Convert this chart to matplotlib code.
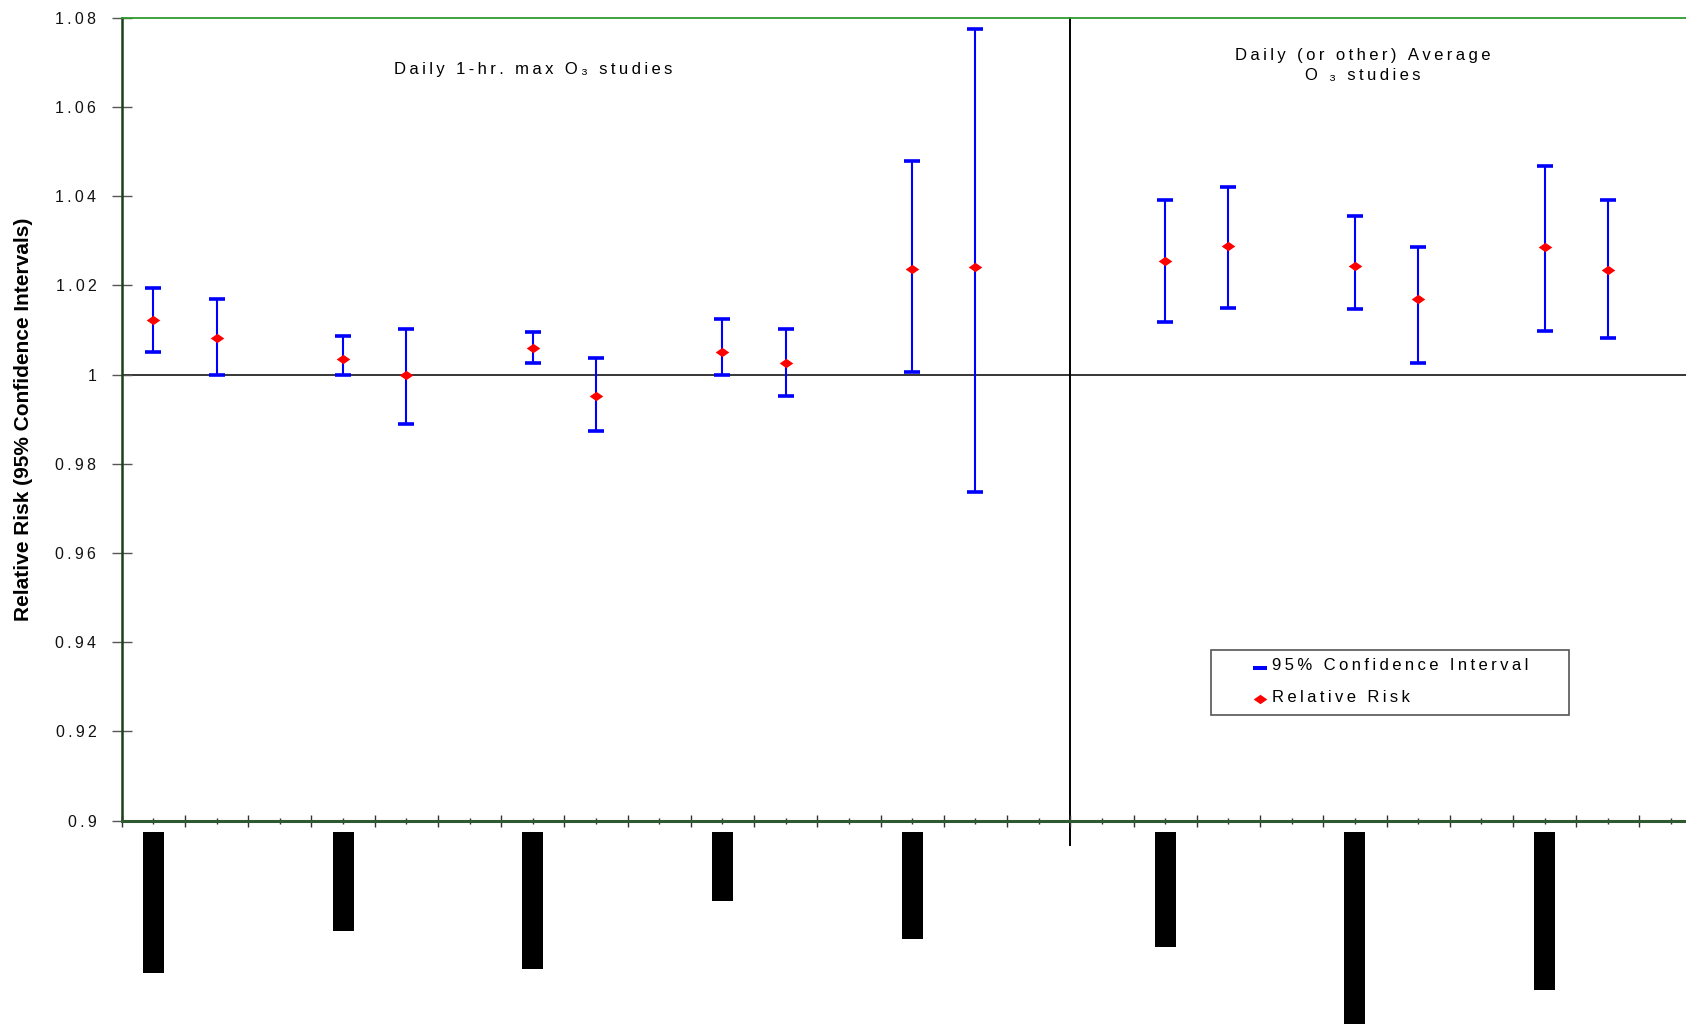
import matplotlib
matplotlib.use("Agg")
import matplotlib.pyplot as plt
from matplotlib.patches import Rectangle
from matplotlib.lines import Line2D
import numpy as np

plt.rcParams['font.family'] = ['Liberation Sans', 'DejaVu Sans']

# study positions along the category axis and their estimates
x_pos = [1, 3, 7, 9, 13, 15, 19, 21, 25, 27, 33, 35, 39, 41, 45, 47]
rr = [1.0122, 1.0081, 1.0035, 1.0000, 1.0059, 0.9953, 1.0050, 1.0025,
      1.0236, 1.0242, 1.0255, 1.0288, 1.0243, 1.0170, 1.0286, 1.0235]
ci_high = [1.0194, 1.0170, 1.0086, 1.0103, 1.0095, 1.0038, 1.0124, 1.0103,
           1.0479, 1.0775, 1.0392, 1.0421, 1.0356, 1.0286, 1.0467, 1.0392]
ci_low = [1.0050, 1.0000, 1.0000, 0.9890, 1.0025, 0.9873, 1.0000, 0.9951,
          1.0005, 0.9737, 1.0117, 1.0149, 1.0146, 1.0025, 1.0098, 1.0083]

y_ticks = [0.9, 0.92, 0.94, 0.96, 0.98, 1.0, 1.02, 1.04, 1.06, 1.08]
y_tick_labels = ['0.9', '0.92', '0.94', '0.96', '0.98', '1', '1.02', '1.04', '1.06', '1.08']

# redacted (blacked out) study labels under the axis
label_x = [1, 7, 13, 19, 25, 33, 39, 45]
label_depth_px = [141, 99, 137, 69, 107, 115, 200, 158]


def spaced(s):
    return '\u2009'.join(s)


fig = plt.figure(figsize=(16.86, 10.24), dpi=100)
ax_w_px = 50 * 31.62
ax_h_px = 803
ax = fig.add_axes([121.7 / 1686, (1024 - 820.7) / 1024, ax_w_px / 1686, ax_h_px / 1024])
ax.set_xlim(0, 50)
ax.set_ylim(0.9, 1.08)

ax.axhline(1.0, color='black', lw=1.1, zorder=1)
ax.axvline(30, ymin=-0.03, ymax=1, color='black', lw=1.4, clip_on=False, zorder=1)

rr_a = np.array(rr)
yerr = [rr_a - np.array(ci_low), np.array(ci_high) - rr_a]
ax.errorbar(x_pos, rr, yerr=yerr, fmt='none', ecolor='#0000ff', elinewidth=1.5,
            capsize=5.5, capthick=2.6, zorder=3)

diamond = [(-1, 0), (0, 0.69), (1, 0), (0, -0.69), (-1, 0)]
ax.plot(x_pos, rr, ls='none', marker=diamond, ms=9.8, color='#ff0000', mew=0, zorder=4)

# spines
ax.spines['right'].set_visible(False)
ax.spines['top'].set_color('#2e9b2e')
ax.spines['top'].set_linewidth(1.3)
ax.spines['left'].set_color('#1c3f1c')
ax.spines['left'].set_linewidth(1.8)
ax.spines['bottom'].set_color('#2f5a2f')
ax.spines['bottom'].set_linewidth(2.2)

ax.set_yticks(y_ticks)
ax.set_yticklabels([spaced(t) for t in y_tick_labels])
ax.tick_params(axis='y', direction='inout', length=15, width=1, color='#555555',
               pad=10.8, labelsize=11.5, labelcolor='#111111')
ax.set_xticks(np.arange(0, 51, 2))
ax.set_xticks(np.arange(1, 50, 2), minor=True)
ax.tick_params(axis='x', which='major', direction='inout', length=9, width=1,
               color='#333333', labelbottom=False)
ax.tick_params(axis='x', which='minor', direction='inout', length=5, width=1,
               color='#333333')

ax.set_ylabel('Relative Risk (95% Confidence Intervals)', fontsize=15,
              fontweight='bold', va='center')
ax.yaxis.set_label_coords((24 - 121.7) / ax_w_px, 0.5)

ax.text(13, 1.0685, spaced('Daily 1-hr. max O\u2083 studies'), ha='center', va='center',
        fontsize=12, color='black')
ax.text(39.26, 1.0692, spaced('Daily (or other) Average') + '\n' + spaced('O \u2083 studies'),
        ha='center', va='center', fontsize=12, color='black', linespacing=1.4)

# blacked-out category labels
top_frac = (820.7 - 832) / ax_h_px
w = 21 / 31.62
for xc, d in zip(label_x, label_depth_px):
    h = d / ax_h_px
    ax.add_patch(Rectangle((xc - w / 2, top_frac - h), w, h, transform=ax.get_xaxis_transform(),
                           facecolor='black', edgecolor='none', clip_on=False))

# legend box
def fx(px):
    return (px - 121.7) / ax_w_px


def fy(py):
    return (820.7 - py) / ax_h_px


ax.add_patch(Rectangle((fx(1210.7), fy(714.7)), fx(1569.3) - fx(1210.7), fy(650) - fy(714.7),
                       transform=ax.transAxes, facecolor='white', edgecolor='#555555',
                       lw=1.2, zorder=5))
ax.add_line(Line2D([fx(1252.7), fx(1267.3)], [fy(668), fy(668)], transform=ax.transAxes,
                   color='#0000ff', lw=2.9, solid_capstyle='butt', zorder=6))
ax.add_line(Line2D([fx(1259.5)], [fy(699)], transform=ax.transAxes, ls='none',
                   marker=diamond, ms=9.8, color='#ff0000', mew=0, zorder=6))
ax.text(fx(1272), fy(666), spaced('95% Confidence Interval'), transform=ax.transAxes,
        ha='left', va='center', fontsize=12, color='black', zorder=6)
ax.text(fx(1272), fy(697), spaced('Relative Risk'), transform=ax.transAxes,
        ha='left', va='center', fontsize=12, color='black', zorder=6)

fig.savefig('out.png', dpi=100)
